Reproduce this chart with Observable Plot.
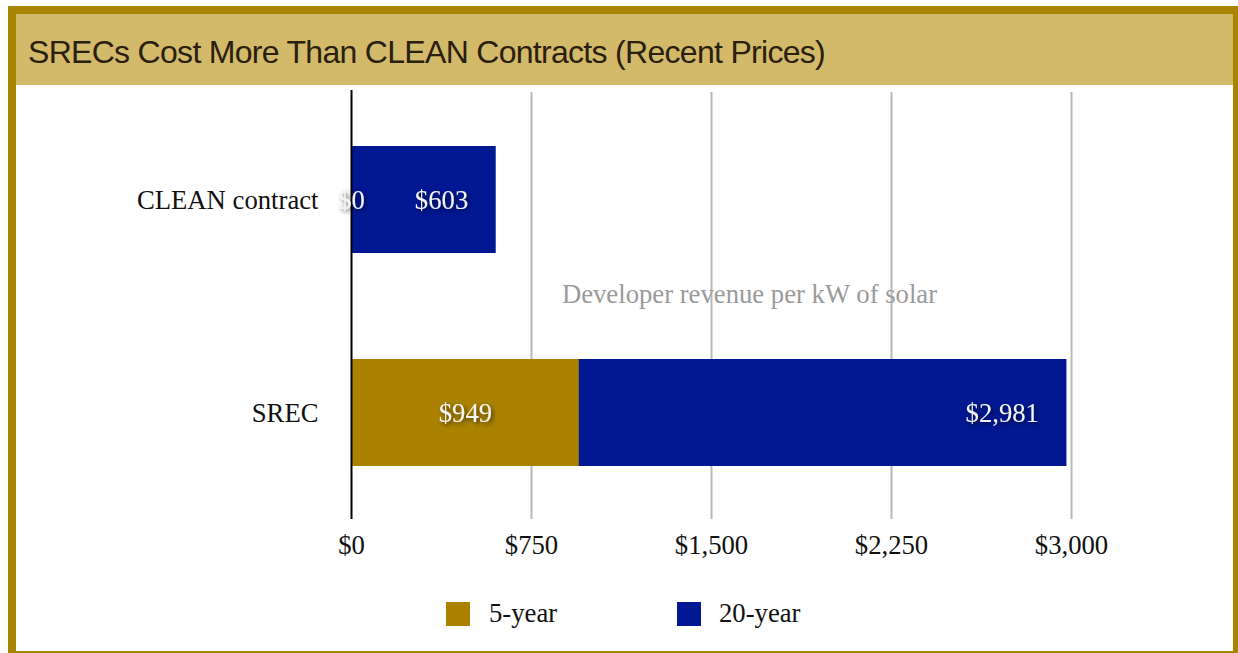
<!DOCTYPE html>
<html>
<head>
<meta charset="utf-8">
<script src="https://cdn.jsdelivr.net/npm/d3@7"></script>
<script src="https://cdn.jsdelivr.net/npm/@observablehq/plot@0.6"></script>
<style>
  html, body { margin: 0; padding: 0; background: #ffffff; width: 1238px; height: 653px; overflow: hidden; }
  #frame { position: absolute; left: 8px; top: 6px; width: 1217px; height: 637px;
    border-left: 8px solid #a98400; border-top: 8px solid #a98400; border-right: 5px solid #a98400; border-bottom: 2px solid #a98400; background: #fff; }
  #title { position: absolute; left: 16px; top: 14px; width: 1217px; height: 71px; background: #d3b96a; }
  #title span { position: absolute; left: 12px; top: 22px; font-family: "Liberation Sans", Arial, sans-serif; font-size: 32px; letter-spacing: -0.7px; color: #2a2010; line-height: 1; white-space: nowrap; }
  #chart { position: absolute; left: 0; top: 0; }
  #legend { position: absolute; left: 0; top: 0; font-family: "Liberation Serif", "Times New Roman", serif; font-size: 26.7px; color: #111; }
  .sw { position: absolute; width: 24px; height: 24px; }
  .lt { position: absolute; line-height: 1; white-space: nowrap; }
</style>
</head>
<body>
<div id="frame"></div>
<div id="title"><span>SRECs Cost More Than CLEAN Contracts (Recent Prices)</span></div>
<div id="chart"></div>
<div id="legend"></div>
<script>
const categories = ["CLEAN contract", "SREC"];
const fiveYear = [0, 949];
const twentyYear = [603, 2981];
const xTicks = [0, 750, 1500, 2250, 3000];
const seriesNames = ["5-year", "20-year"];
const seriesColors = ["#aa8200", "#011892"];
const axisTitle = "Developer revenue per kW of solar";

const fmt = d3.format("$,.0f");
const d5 = categories.map((c, i) => ({cat: c, value: fiveYear[i]}));
const d20 = categories.map((c, i) => ({cat: c, value: twentyYear[i]}));
const FS = 26.7;
const LABEL_FILL = "#f4f4f5";

const plot = Plot.plot({
  width: 1238,
  height: 653,
  marginLeft: 351,
  marginRight: 167,
  marginTop: 92,
  marginBottom: 134,
  style: {fontFamily: "'Liberation Serif', 'Times New Roman', serif", fontSize: FS + "px", background: "transparent", color: "#111"},
  x: {domain: [0, 3000], label: null},
  y: {domain: categories, paddingInner: 0.5, paddingOuter: 0.25, label: null},
  marks: [
    Plot.gridX(xTicks.filter(d => d !== 0), {stroke: "#b9b9b9", strokeOpacity: 1, strokeWidth: 2}),
    Plot.barX(d20, {y: "cat", x1: 0, x2: "value", fill: seriesColors[1]}),
    Plot.barX(d5, {y: "cat", x1: 0, x2: "value", fill: seriesColors[0]}),
    Plot.ruleX([0], {stroke: "#000", strokeWidth: 2, insetTop: -2}),
    Plot.axisX({ticks: xTicks, tickSize: 0, tickPadding: 16, tickFormat: fmt, fontSize: FS, fill: "#111", label: null}),
    Plot.axisY({tickSize: 0, tickPadding: 33, fontSize: FS, fill: "#111", label: null}),
    Plot.text([axisTitle], {frameAnchor: "middle", dx: 38, dy: -12, fill: "#9a9a9a", fontSize: FS}),
    Plot.text(d5, {y: "cat", x: d => d.value / 2, text: d => fmt(d.value), fill: LABEL_FILL, fontSize: FS}),
    Plot.text(d20, {y: "cat", x: "value", text: d => fmt(d.value), textAnchor: "end", dx: -28, fill: LABEL_FILL, fontSize: FS})
  ]
});
document.getElementById("chart").appendChild(plot);

// drop shadow on value labels
const svg = d3.select(plot);
const defs = svg.insert("defs", ":first-child");
const f = defs.append("filter").attr("id", "lblshadow").attr("x", "-30%").attr("y", "-50%").attr("width", "160%").attr("height", "200%");
f.append("feGaussianBlur").attr("in", "SourceAlpha").attr("stdDeviation", 2.2).attr("result", "blur");
f.append("feOffset").attr("in", "blur").attr("dx", 1.5).attr("dy", 2).attr("result", "off");
f.append("feComponentTransfer").attr("in", "off").attr("result", "shadow")
  .append("feFuncA").attr("type", "linear").attr("slope", 0.6);
const m = f.append("feMerge");
m.append("feMergeNode").attr("in", "shadow");
m.append("feMergeNode").attr("in", "SourceGraphic");
svg.selectAll("g").filter(function() {
  return (this.getAttribute("fill") || "").toLowerCase() === LABEL_FILL;
}).attr("filter", "url(#lblshadow)");
svg.selectAll("text").filter(function() {
  return (this.getAttribute("fill") || "").toLowerCase() === LABEL_FILL;
}).attr("filter", "url(#lblshadow)");

const legend = document.getElementById("legend");
const legendPos = [{sx: 446, tx: 489}, {sx: 677, tx: 719}];
seriesNames.forEach((name, i) => {
  const sw = document.createElement("div");
  sw.className = "sw";
  sw.style.left = legendPos[i].sx + "px";
  sw.style.top = "602px";
  sw.style.background = seriesColors[i];
  legend.appendChild(sw);
  const t = document.createElement("div");
  t.className = "lt";
  t.style.left = legendPos[i].tx + "px";
  t.style.top = "600px";
  t.textContent = name;
  legend.appendChild(t);
});
</script>
</body>
</html>
